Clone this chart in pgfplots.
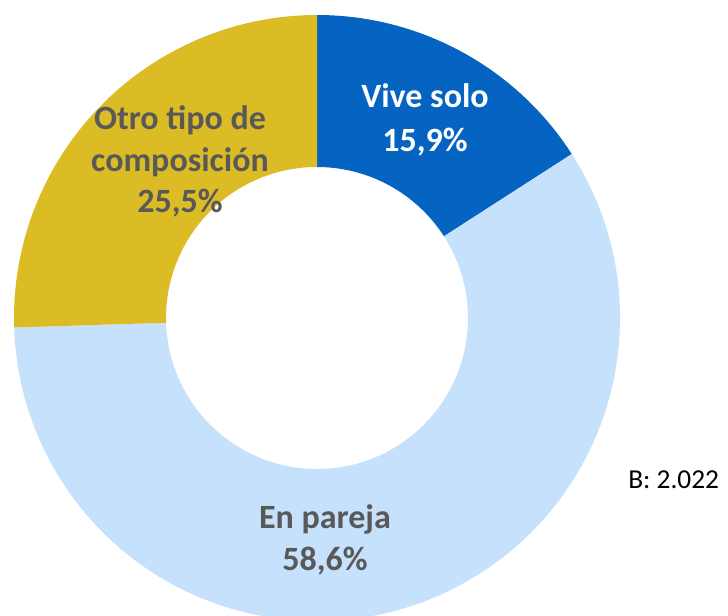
\documentclass[border=0pt]{standalone}
\usepackage{pgfplots}
\pgfplotsset{compat=1.18}
\usepackage{fontspec}
\setmainfont{Carlito}
\usetikzlibrary{calc}

\definecolor{cSolo}{HTML}{0563C1}
\definecolor{cPareja}{HTML}{C5E1FB}
\definecolor{cOtro}{HTML}{DBBC25}
\definecolor{cText}{HTML}{595959}

% shares in percent
\def\pSolo{15.9}
\def\pPareja{58.6}
\def\pOtro{25.5}

% one ring segment, angles in degrees
\newcommand{\ring}[3]{%
  \fill[#3] (axis cs:317,297) ++(#1:227.25pt)
    arc[start angle=#1, end angle=#2, radius=227.25pt]
    -- ($(axis cs:317,297)+(#2:113.25pt)$)
    arc[start angle=#2, end angle=#1, radius=113.25pt] -- cycle;}

\begin{document}
\begin{tikzpicture}
\begin{axis}[
    width=546pt, height=461.25pt,
    scale only axis,
    xmin=0, xmax=728, ymin=0, ymax=615,
    axis line style={draw=none},
    xtick=\empty, ytick=\empty,
]
\pgfmathsetmacro{\aA}{90}
\pgfmathsetmacro{\aB}{\aA-3.6*\pSolo}
\pgfmathsetmacro{\aC}{\aB-3.6*\pPareja}
\pgfmathsetmacro{\aD}{\aC-3.6*\pOtro}
\ring{\aA}{\aB}{cSolo}
\ring{\aB}{\aC}{cPareja}
\ring{\aC}{\aD}{cOtro}

\begin{scope}[font=\fontsize{25.5}{30}\selectfont\bfseries]
\node[white, anchor=base] at (axis cs:425,507) {Vive solo};
\node[white, anchor=base] at (axis cs:425,463) {15,9\%};
\node[cText, anchor=base] at (axis cs:180,485) {Otro tipo de};
\node[cText, anchor=base] at (axis cs:180,443) {composición};
\node[cText, anchor=base] at (axis cs:180,402) {25,5\%};
\node[cText, anchor=base] at (axis cs:325,87) {En pareja};
\node[cText, anchor=base] at (axis cs:325,45) {58,6\%};
\end{scope}
\node[black, anchor=base west, inner sep=0pt, font=\fontsize{20.5}{24}\selectfont]
  at (axis cs:628,127) {B: 2.022};
\end{axis}
\end{tikzpicture}
\end{document}
